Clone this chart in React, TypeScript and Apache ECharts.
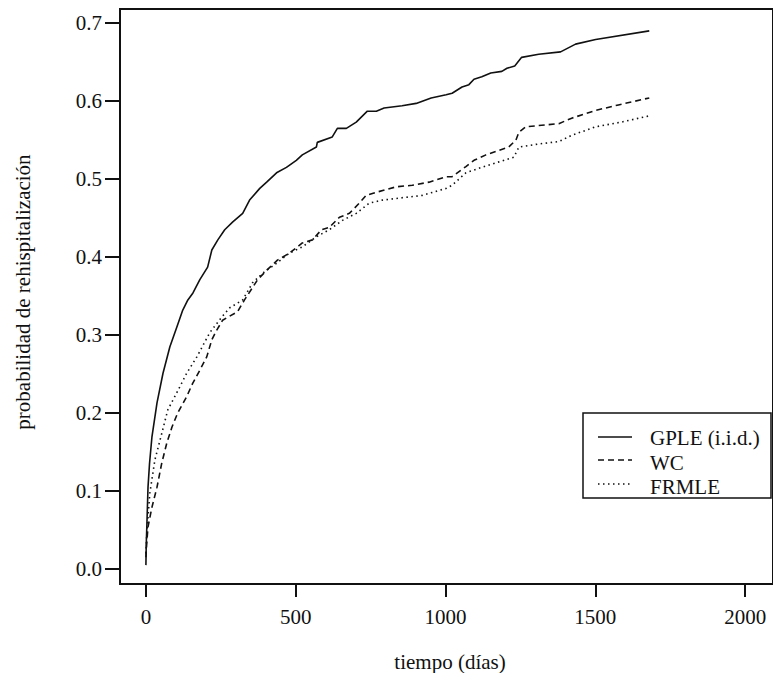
import { useEffect, useRef } from "react";
import * as echarts from "echarts";

const xTicks = [0, 500, 1000, 1500, 2000];
const yTicks = [0, 0.1, 0.2, 0.3, 0.4, 0.5, 0.6, 0.7];

const seriesNames = ["GPLE (i.i.d.)", "WC", "FRMLE"];

const gpleT = [0, 1, 3, 7, 12, 20, 37, 57, 80, 103, 123, 140, 157, 180, 206, 220, 240, 263, 290, 323, 346, 380, 403, 436, 469, 502, 522, 569, 572, 622, 639, 669, 702, 739, 769, 795, 855, 902, 952, 1002, 1022, 1055, 1078, 1095, 1121, 1151, 1188, 1205, 1231, 1254, 1311, 1384, 1434, 1501, 1680];
const gpleP = [0.005, 0.03, 0.054, 0.105, 0.135, 0.169, 0.213, 0.251, 0.285, 0.31, 0.332, 0.345, 0.354, 0.371, 0.387, 0.409, 0.422, 0.435, 0.445, 0.456, 0.473, 0.488, 0.496, 0.508, 0.515, 0.524, 0.531, 0.541, 0.547, 0.554, 0.565, 0.565, 0.573, 0.587, 0.587, 0.591, 0.594, 0.597, 0.604, 0.608, 0.61, 0.618, 0.621, 0.628, 0.631, 0.636, 0.638, 0.642, 0.645, 0.656, 0.66, 0.663, 0.673, 0.679, 0.69];

const wcT = [0, 3, 7, 20, 37, 53, 70, 87, 106, 136, 156, 180, 203, 220, 236, 256, 306, 329, 373, 403, 439, 479, 522, 556, 586, 612, 646, 679, 712, 735, 769, 835, 889, 945, 1002, 1022, 1068, 1095, 1135, 1211, 1235, 1245, 1268, 1378, 1421, 1501, 1577, 1680];
const wcP = [0.015, 0.035, 0.054, 0.079, 0.105, 0.136, 0.162, 0.182, 0.2, 0.221, 0.238, 0.255, 0.272, 0.294, 0.306, 0.319, 0.33, 0.345, 0.371, 0.383, 0.396, 0.405, 0.418, 0.422, 0.435, 0.438, 0.451, 0.456, 0.469, 0.479, 0.483, 0.49, 0.492, 0.496, 0.503, 0.503, 0.516, 0.524, 0.531, 0.541, 0.55, 0.56, 0.567, 0.571, 0.578, 0.588, 0.595, 0.604];

const frmleT = [0, 3, 13, 30, 53, 73, 103, 136, 170, 213, 253, 280, 323, 356, 389, 436, 479, 522, 569, 612, 656, 702, 745, 789, 855, 922, 1002, 1022, 1068, 1121, 1178, 1228, 1245, 1311, 1378, 1421, 1501, 1587, 1680];
const frmleP = [0.02, 0.046, 0.097, 0.14, 0.174, 0.204, 0.226, 0.251, 0.272, 0.303, 0.323, 0.335, 0.345, 0.367, 0.379, 0.392, 0.405, 0.413, 0.426, 0.435, 0.447, 0.456, 0.469, 0.473, 0.476, 0.479, 0.488, 0.492, 0.508, 0.515, 0.522, 0.528, 0.541, 0.545, 0.548, 0.556, 0.567, 0.573, 0.581];

const FONT = "Liberation Serif";
const INK = "#111";
const FS = 21;

function pairs(t: number[], p: number[]) {
  return t.map((v, i) => [v, p[i]]);
}

export default function App() {
  const ref = useRef<HTMLDivElement>(null);
  useEffect(() => {
    const chart = echarts.init(ref.current!, null, { renderer: "svg" });
    const dashes: any[] = ["solid", [6, 4], [1.5, 3.5]];
    const datasets = [pairs(gpleT, gpleP), pairs(wcT, wcP), pairs(frmleT, frmleP)];
    const legendY = [437, 460, 484];
    const legendTextY = [438, 463, 487];
    chart.setOption({
      animation: false,
      backgroundColor: "#fff",
      textStyle: { fontFamily: FONT },
      grid: {
        left: 120,
        top: 9,
        width: 655,
        height: 575,
        show: true,
        borderColor: INK,
        borderWidth: 2,
        backgroundColor: "transparent",
      },
      xAxis: {
        type: "value",
        min: -86.5,
        max: 2093,
        axisLine: { show: false, onZero: false },
        splitLine: { show: false },
        axisTick: { show: true, length: 13, customValues: xTicks, lineStyle: { color: INK, width: 2 } },
        axisLabel: {
          customValues: xTicks,
          margin: 22,
          fontSize: FS,
          fontFamily: FONT,
          color: INK,
          formatter: (v: number) => String(v),
        },
      },
      yAxis: {
        type: "value",
        min: -0.0192,
        max: 0.718,
        axisLine: { show: false, onZero: false },
        splitLine: { show: false },
        axisTick: { show: true, length: 15, customValues: yTicks, lineStyle: { color: INK, width: 2 } },
        axisLabel: {
          customValues: yTicks,
          margin: 18,
          fontSize: FS,
          fontFamily: FONT,
          color: INK,
          formatter: (v: number) => v.toFixed(1),
        },
      },
      series: datasets.map((d, i) => ({
        name: seriesNames[i],
        type: "line",
        data: d,
        showSymbol: false,
        symbol: "none",
        lineStyle: { color: INK, width: 1.6, type: dashes[i] },
        z: 3,
      })),
      graphic: [
        {
          type: "text",
          x: 450,
          y: 662,
          style: { text: "tiempo (días)", fontSize: FS, fontFamily: FONT, fill: INK, align: "center", verticalAlign: "middle" },
        },
        {
          type: "text",
          x: 23,
          y: 292,
          rotation: Math.PI / 2,
          style: { text: "probabilidad de rehispitalización", fontSize: FS, fontFamily: FONT, fill: INK, align: "center", verticalAlign: "middle" },
        },
        {
          type: "rect",
          shape: { x: 583, y: 413, width: 188, height: 85 },
          style: { fill: "#fff", stroke: INK, lineWidth: 1.5 },
          z: 10,
        },
        ...seriesNames.map((n, i) => ({
          type: "line",
          shape: { x1: 598, y1: legendY[i], x2: 632, y2: legendY[i] },
          style: { stroke: INK, lineWidth: 1.6, lineDash: i === 0 ? null : dashes[i] },
          z: 11,
        })),
        ...seriesNames.map((n, i) => ({
          type: "text",
          x: 650,
          y: legendTextY[i],
          style: { text: n, fontSize: FS, fontFamily: FONT, fill: INK, align: "left", verticalAlign: "middle" },
          z: 11,
        })),
      ],
    });
    return () => chart.dispose();
  }, []);
  return (
    <div
      ref={ref}
      style={{ position: "fixed", left: 0, top: 0, width: 773, height: 673, background: "#fff" }}
    />
  );
}
